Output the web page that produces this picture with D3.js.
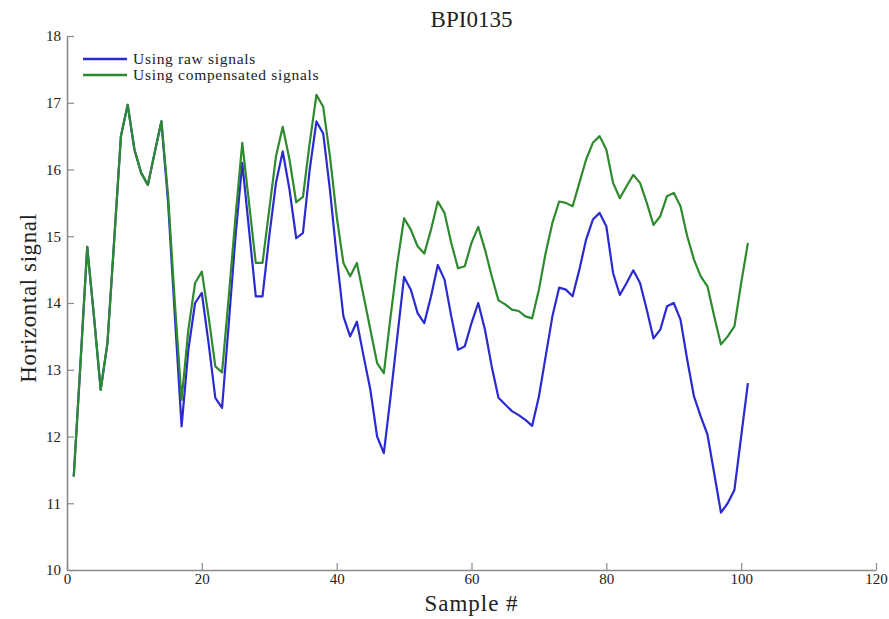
<!DOCTYPE html>
<html>
<head>
<meta charset="utf-8">
<script src="https://cdn.jsdelivr.net/npm/d3@7"></script>
<style>
  body { margin: 0; background: #fff; }
  text { font-family: "Liberation Serif", "DejaVu Serif", serif; fill: #222; }
</style>
</head>
<body>
<div id="chart"></div>
<script>
// ----------------------
// Data
// ----------------------
const samples = d3.range(1, 102);

const rawSignal = [
  11.40, 13.10, 14.84, 13.80, 12.70, 13.40, 14.94, 16.50, 16.97, 16.30,
  15.95, 15.77, 16.25, 16.72, 15.50, 13.80, 12.15, 13.30, 14.00, 14.15,
  13.40, 12.58, 12.43, 13.70, 15.00, 16.10, 15.10, 14.10, 14.10, 15.00,
  15.80, 16.27, 15.70, 14.97, 15.05, 16.00, 16.72, 16.54, 15.70, 14.70,
  13.80, 13.50, 13.72, 13.20, 12.70, 12.00, 11.75, 12.60, 13.50, 14.39,
  14.20, 13.85, 13.70, 14.10, 14.57, 14.35, 13.80, 13.30, 13.35, 13.70,
  14.00, 13.60, 13.05, 12.58, 12.48, 12.38, 12.32, 12.25, 12.16, 12.60,
  13.20, 13.80, 14.23, 14.20, 14.10, 14.50, 14.95, 15.25, 15.35, 15.15,
  14.45, 14.12, 14.30, 14.49, 14.30, 13.90, 13.47, 13.60, 13.95, 14.00,
  13.75, 13.15, 12.60, 12.30, 12.03, 11.45, 10.86, 11.00, 11.20, 12.00,
  12.80
];

const compSignal = [
  11.40, 13.10, 14.84, 13.80, 12.70, 13.40, 14.94, 16.50, 16.97, 16.30,
  15.95, 15.77, 16.25, 16.72, 15.60, 14.00, 12.55, 13.60, 14.30, 14.47,
  13.80, 13.05, 12.96, 14.10, 15.30, 16.40, 15.50, 14.60, 14.60, 15.40,
  16.20, 16.64, 16.15, 15.51, 15.59, 16.40, 17.12, 16.94, 16.20, 15.30,
  14.60, 14.40, 14.60, 14.10, 13.60, 13.10, 12.95, 13.80, 14.60, 15.27,
  15.10, 14.85, 14.74, 15.10, 15.52, 15.35, 14.90, 14.52, 14.55, 14.90,
  15.14, 14.80, 14.40, 14.04, 13.98, 13.90, 13.88, 13.80, 13.77, 14.20,
  14.75, 15.20, 15.52, 15.50, 15.45, 15.80, 16.15, 16.40, 16.50, 16.30,
  15.80, 15.57, 15.75, 15.92, 15.80, 15.50, 15.17, 15.30, 15.60, 15.65,
  15.45, 15.00, 14.65, 14.40, 14.25, 13.80, 13.38, 13.50, 13.65, 14.30,
  14.90
];

const xTicks = [0, 20, 40, 60, 80, 100, 120];
const yTicks = [10, 11, 12, 13, 14, 15, 16, 17, 18];
const seriesNames = ["Using raw signals", "Using compensated signals"];
const seriesColors = ["#2a2ad0", "#2e8a2e"];

// ----------------------
// Layout
// ----------------------
const width = 889, height = 619;
const margin = { top: 36, right: 13, bottom: 49, left: 67 };
const innerW = width - margin.left - margin.right;
const innerH = height - margin.top - margin.bottom;

const svg = d3.select("#chart")
    .append("svg")
    .attr("width", width)
    .attr("height", height);

const g = svg.append("g")
    .attr("transform", `translate(${margin.left}, ${margin.top})`);

const x = d3.scaleLinear().domain([0, 120]).range([0, innerW]);
const y = d3.scaleLinear().domain([10, 18]).range([innerH, 0]);

// axes, MATLAB style: ticks pointing inward, no box
const xAxis = g.append("g")
    .attr("transform", `translate(0, ${innerH})`)
    .call(d3.axisBottom(x).tickValues(xTicks).tickSizeInner(-7).tickSizeOuter(0).tickPadding(3));

const yAxis = g.append("g")
    .call(d3.axisLeft(y).tickValues(yTicks).tickSizeInner(-7).tickSizeOuter(0).tickPadding(6));

[xAxis, yAxis].forEach(ax => {
    ax.select(".domain").attr("stroke", "#8a8a8a").attr("stroke-width", 1.6);
    ax.selectAll(".tick line").attr("stroke", "#8a8a8a").attr("stroke-width", 1.2);
    ax.selectAll(".tick text")
        .attr("fill", "#333")
        .style("font-family", "Liberation Serif, serif")
        .style("font-size", "15px");
});
xAxis.selectAll(".tick text").attr("dy", "0.75em");

// ----------------------
// Lines
// ----------------------
const line = d3.line()
    .x((d, i) => x(samples[i]))
    .y(d => y(d));

[rawSignal, compSignal].forEach((vals, k) => {
    g.append("path")
        .datum(vals)
        .attr("fill", "none")
        .attr("stroke", seriesColors[k])
        .attr("stroke-width", 2.2)
        .attr("stroke-linejoin", "round")
        .attr("d", line);
});

// ----------------------
// Legend
// ----------------------
const legend = g.append("g").attr("transform", "translate(16, 23)");
seriesNames.forEach((name, k) => {
    const row = legend.append("g").attr("transform", `translate(0, ${k * 16})`);
    row.append("line")
        .attr("x1", 0).attr("x2", 44)
        .attr("stroke", seriesColors[k])
        .attr("stroke-width", 2.4);
    row.append("text")
        .attr("x", 50)
        .attr("dy", "0.32em")
        .style("font-size", "15.5px")
        .style("letter-spacing", "0.7px")
        .text(name);
});

// ----------------------
// Titles
// ----------------------
svg.append("text")
    .attr("x", margin.left + innerW / 2)
    .attr("y", 27)
    .attr("text-anchor", "middle")
    .style("font-size", "23px")
    .text("BPI0135");

svg.append("text")
    .attr("x", margin.left + innerW / 2)
    .attr("y", 611)
    .attr("text-anchor", "middle")
    .style("font-size", "23px")
    .style("letter-spacing", "1px")
    .text("Sample #");

svg.append("text")
    .attr("transform", `translate(36, 298) rotate(-90)`)
    .attr("text-anchor", "middle")
    .style("font-size", "23px")
    .style("letter-spacing", "0.6px")
    .text("Horizontal signal");
</script>
</body>
</html>
